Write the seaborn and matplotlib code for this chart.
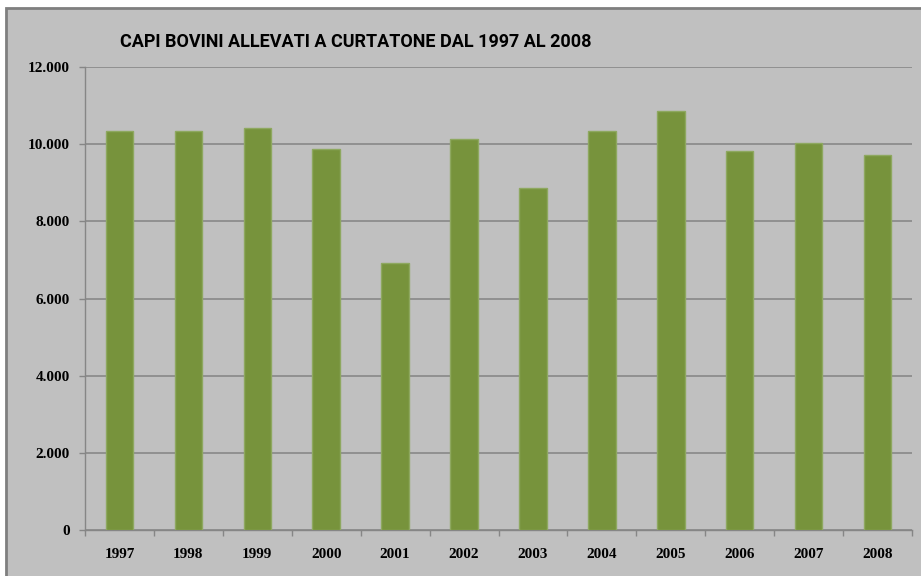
import matplotlib
matplotlib.use("Agg")
import matplotlib.pyplot as plt
import matplotlib.ticker as mticker
from matplotlib.patches import Rectangle
import seaborn as sns
import pandas as pd

years = ["1997", "1998", "1999", "2000", "2001", "2002", "2003", "2004", "2005", "2006", "2007", "2008"]
capi = [10350, 10350, 10430, 9875, 6920, 10140, 8870, 10330, 10850, 9830, 10040, 9730]
title = "CAPI BOVINI ALLEVATI A CURTATONE DAL 1997 AL 2008"
yticks = [0, 2000, 4000, 6000, 8000, 10000, 12000]

df = pd.DataFrame({"anno": years, "capi": capi})

sns.set_theme(style="white")
plt.rcParams["font.family"] = ["Liberation Serif", "DejaVu Serif"]

W, H = 921, 576
fig = plt.figure(figsize=(W / 100, H / 100), dpi=100)
fig.patch.set_facecolor("white")
bg = Rectangle((6 / W, -0.01), 1.0, (H - 8) / H + 0.01, transform=fig.transFigure,
               facecolor="#C0C0C0", edgecolor="#7F7F7F", linewidth=2, zorder=-5)
fig.patches.append(bg)

ax = fig.add_axes([85 / W, (H - 530) / H, (912 - 85) / W, (530 - 67) / H])
ax.set_facecolor("none")
ax.set_zorder(2)

sns.barplot(data=df, x="anno", y="capi", color="#77933C", width=0.4,
            saturation=1, edgecolor="#8EA860", linewidth=1, ax=ax, zorder=3)

ax.set_xlim(-0.5, len(years) - 0.5)
ax.set_ylim(0, 12000)
ax.set_yticks(yticks)
ax.yaxis.set_major_formatter(mticker.FuncFormatter(lambda v, p: f"{int(v):,}".replace(",", ".")))
ax.yaxis.grid(True, color="#8C8C8C", linewidth=1.3, zorder=1)
ax.set_axisbelow(True)
ax.set_xlabel("")
ax.set_ylabel("")

for s in ["top", "right"]:
    ax.spines[s].set_visible(False)
for s in ["left", "bottom"]:
    ax.spines[s].set_color("#868686")
    ax.spines[s].set_linewidth(1)

ax.set_xticks(range(len(years)))
ax.set_xticklabels(years)
ax.set_xticks([i - 0.5 for i in range(len(years) + 1)], minor=True)
ax.tick_params(axis="x", which="major", length=0, pad=13, labelsize=11, labelcolor="black")
ax.tick_params(axis="x", which="minor", length=4.5, width=1, color="#868686", direction="out", bottom=True)
ax.tick_params(axis="y", which="major", length=4.5, width=1, color="#868686", direction="out", left=True,
               pad=6.5, labelsize=11, labelcolor="black")
for lab in ax.get_xticklabels() + ax.get_yticklabels():
    lab.set_fontweight("bold")

fig.text(120 / W, 1 - 42 / H, title, ha="left", va="center", fontsize=13, fontweight="bold",
         family=["Roboto", "DejaVu Sans"], fontstretch="condensed", color="black")

fig.savefig("out.png", dpi=100, facecolor=fig.get_facecolor())
